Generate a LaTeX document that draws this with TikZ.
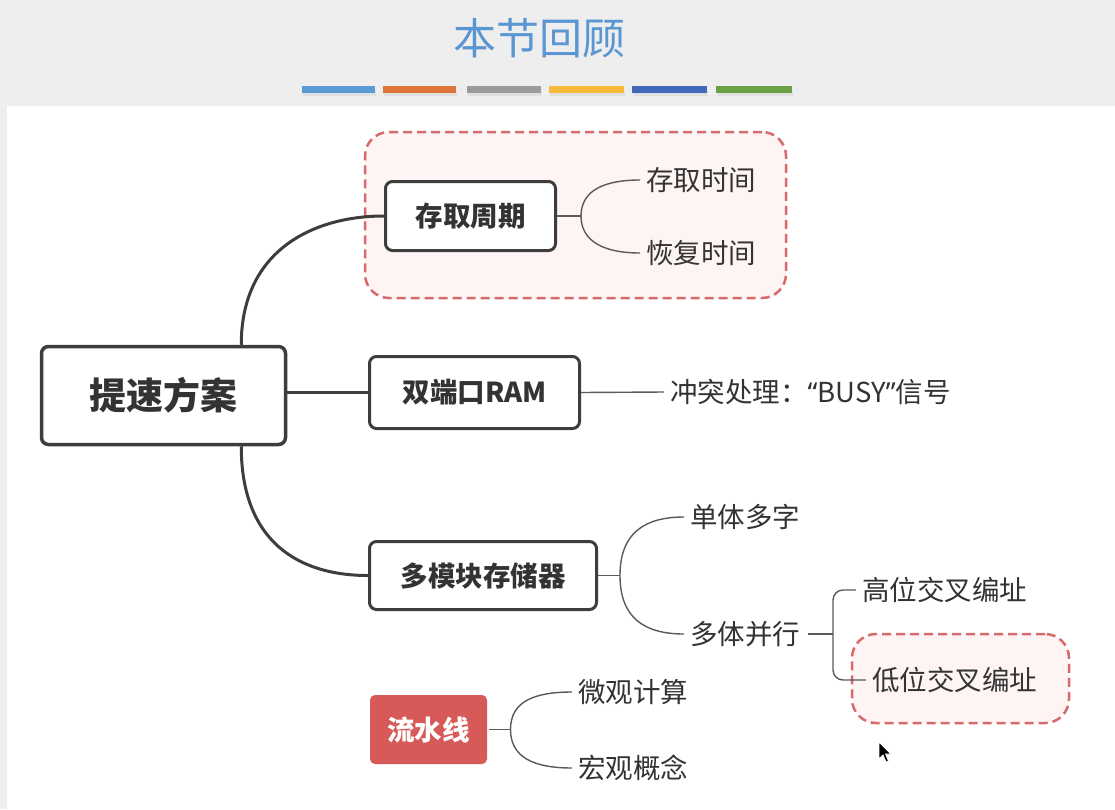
\documentclass[tikz,border=0pt]{standalone}
\usepackage{fontspec}
\setmainfont{Noto Sans CJK SC}
\newfontfamily\quotefont{Noto Sans}
\usetikzlibrary{calc}
\definecolor{bggray}{HTML}{EEEEEE}
\definecolor{titleblue}{HTML}{5A96D2}
\definecolor{barA}{HTML}{5B9BD5}
\definecolor{barB}{HTML}{E0743A}
\definecolor{barC}{HTML}{9B9B9B}
\definecolor{barD}{HTML}{F7B93A}
\definecolor{barE}{HTML}{4169B8}
\definecolor{barF}{HTML}{6A9F45}
\definecolor{boxline}{HTML}{3D3D3D}
\definecolor{txt}{HTML}{333333}
\definecolor{linkgray}{HTML}{5A5A5A}
\definecolor{dashred}{HTML}{D66B6B}
\definecolor{pinkfill}{HTML}{FDF4F3}
\definecolor{lsred}{HTML}{D65A58}
\begin{document}
\begin{tikzpicture}[x=1pt,y=-1pt,
  box/.style={draw=boxline, line width=3pt, rounded corners=7pt, fill=white, text=txt,
    font=\fontsize{27.5}{30}\selectfont\bfseries, inner sep=0pt},
  leaf/.style={text=txt, font=\fontsize{27.5}{30}\selectfont, anchor=west, inner xsep=6pt, inner ysep=0pt},
  mainlink/.style={draw=boxline, line width=3pt},
  sublink/.style={draw=linkgray, line width=1.4pt},
  focus/.style={draw=dashred, dash pattern=on 9pt off 5pt, line width=2.5pt, fill=pinkfill, rounded corners=24pt, inner sep=0pt}]
\useasboundingbox (0,0) rectangle (1115,809);
\fill[bggray] (0,0) rectangle (1115,809);
\fill[white] (7,106) rectangle (1115,809);
% title
\node[text=titleblue, font=\fontsize{43}{48}\selectfont] (title) at (539,38) {本节回顾};
% bars
\foreach \xa/\xb/\c in {302/375/barA, 383/456/barB, 467/541/barC, 549/624/barD, 632/707/barE, 716/792/barF}{
  \fill[black!12] (\xa+1,91) rectangle (\xb+1,96);
  \fill[\c] (\xa,86) rectangle (\xb,93);
}
% highlight frames
\node[focus, minimum width=421pt, minimum height=166pt] (frameA) at (575.5,215) {};
\node[focus, minimum width=217pt, minimum height=89pt] (frameB) at (960.5,678.5) {};
% boxes
\node[box, line width=3.5pt, minimum width=244pt, minimum height=98pt, font=\fontsize{37}{40}\selectfont\bfseries] (root) at (163.5,395.5) {提速方案};
\node[box, minimum width=170pt, minimum height=69pt] (cq) at (470.5,216) {存取周期};
\node[box, minimum width=210pt, minimum height=72pt] (ram) at (474.5,392.5) {双端口RAM};
\node[box, minimum width=227pt, minimum height=68pt] (mm) at (483,575.5) {多模块存储器};
\node[box, draw=none, fill=lsred, text=white, rounded corners=5pt, minimum width=117pt, minimum height=69pt] (ls) at (428.5,729.5) {流水线};
% leaves
\node[leaf] (sj1) at (640,180) {存取时间};
\node[leaf] (sj2) at (640,253) {恢复时间};
\node[leaf] (busy) at (664,392) {冲突处理：{\quotefont“}BUSY{\quotefont”}信号};
\node[leaf] (dt) at (684,517) {单体多字};
\node[leaf] (dtbx) at (684,634) {多体并行};
\node[leaf] (gw) at (856,590) {高位交叉编址};
\node[leaf] (dw) at (866,680) {低位交叉编址};
\node[leaf] (wg) at (572,692) {微观计算};
\node[leaf] (hg) at (572,768) {宏观概念};
% main links
\draw[mainlink] ($(root.north east)+(-46,0)$) .. controls +(0,-95) and +(-70,0) .. (cq.west);
\draw[mainlink] (root.east |- ram.west) -- (ram.west);
\draw[mainlink] ($(root.south east)+(-46,0)$) .. controls +(0,95) and +(-70,0) .. (mm.west);
% sub links
\coordinate (fa) at ($(cq.east)+(24,0)$);
\draw[sublink] (cq.east) -- (fa);
\draw[sublink] (fa) .. controls +(0,-26) and +(-35,0) .. (sj1.west);
\draw[sublink] (fa) .. controls +(0,26) and +(-35,0) .. (sj2.west);
\draw[sublink] (ram.east) -- (busy.west);
\coordinate (fb) at ($(mm.east)+(22,0)$);
\draw[sublink] (mm.east) -- (fb);
\draw[sublink] (fb) .. controls +(0,-42) and +(-40,0) .. (dt.west);
\draw[sublink] (fb) .. controls +(0,42) and +(-40,0) .. (dtbx.west);
\coordinate (fc) at (833,634);
\draw[sublink] ($(dtbx.east)+(2,0)$) -- (fc);
\draw[sublink, rounded corners=10pt] (gw.west) -| (fc) |- (dw.west);
\coordinate (fd) at ($(ls.east)+(22,0)$);
\draw[sublink] (ls.east) -- (fd);
\draw[sublink] (fd) .. controls +(0,-28) and +(-38,0) .. (wg.west);
\draw[sublink] (fd) .. controls +(0,28) and +(-38,0) .. (hg.west);
% mouse pointer
\filldraw[fill=black, draw=white, line width=0.8pt] (879,742) -- ++(0,17) -- ++(4,-4) -- ++(3,7) -- ++(2.5,-1) -- ++(-3,-7) -- ++(5.5,0) -- cycle;
\end{tikzpicture}
\end{document}
